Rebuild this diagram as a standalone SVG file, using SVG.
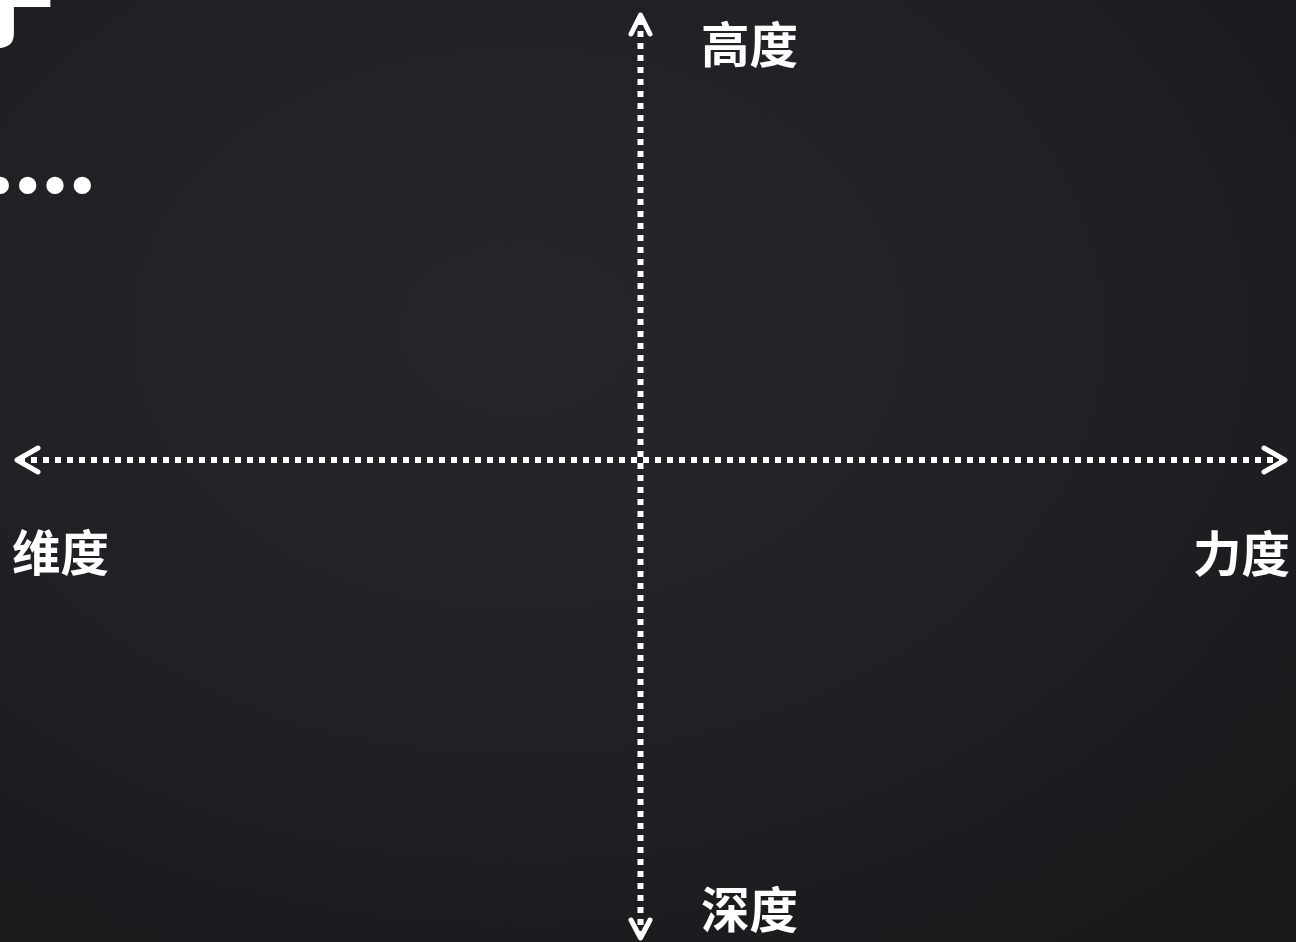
<svg xmlns="http://www.w3.org/2000/svg" width="1296" height="942" viewBox="0 0 1296 942">
  <defs>
    <radialGradient id="bg" cx="0.4" cy="0.35" r="0.8">
      <stop offset="0" stop-color="#27272b"/>
      <stop offset="0.6" stop-color="#202024"/>
      <stop offset="1" stop-color="#19191c"/>
    </radialGradient>
  </defs>
  <style>
    .lbl { font-family: "Noto Sans CJK SC", "Noto Sans", sans-serif; font-weight: 700; font-size: 48.5px; fill: #ffffff; }
    .axis { stroke: #ffffff; stroke-width: 6; stroke-dasharray: 6 6; fill: none; }
    .head { stroke: #ffffff; stroke-width: 5; fill: none; stroke-linecap: round; stroke-linejoin: round; }
    .title { font-family: "Noto Sans CJK SC", sans-serif; font-weight: 900; fill: #ffffff; }
  </style>
  <rect width="1296" height="942" fill="url(#bg)"/>
  <g id="title">
    <text class="title" x="-45" y="40" font-size="100">于</text>
    <text class="title" x="96" y="216" font-size="82" text-anchor="end" stroke="#ffffff" stroke-width="2.5">……</text>
  </g>
  <g id="connectors">
    <line class="axis" x1="19" y1="460" x2="1282" y2="460"/>
    <line class="axis" x1="640.5" y1="19" x2="640.5" y2="934"/>
    <path class="head" d="M38,448 L17,460 L38,472"/>
    <path class="head" d="M1264,448 L1285,460 L1264,472"/>
    <path class="head" d="M631,34 L640.5,15 L650,34"/>
    <path class="head" d="M631,920 L640.5,938 L650,920"/>
  </g>
  <g id="node-height"><text class="lbl" x="701" y="63">高度</text></g>
  <g id="node-dimension"><text class="lbl" x="12" y="571">维度</text></g>
  <g id="node-strength"><text class="lbl" x="1290" y="572" text-anchor="end">力度</text></g>
  <g id="node-depth"><text class="lbl" x="701" y="928">深度</text></g>
</svg>
